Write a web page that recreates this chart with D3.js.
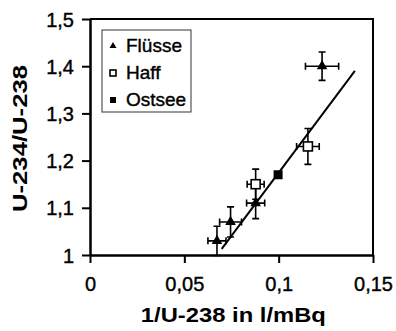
<!DOCTYPE html>
<html>
<head>
<meta charset="utf-8">
<script src="https://cdn.jsdelivr.net/npm/d3@7"></script>
<style>
  body { margin: 0; background: #fff; }
  svg text { font-family: "Liberation Sans", Arial, sans-serif; fill: #000; }
</style>
</head>
<body>
<div id="chart"></div>
<script>
// data
var groups  = ["Flüsse", "Haff", "Ostsee", "Haff", "Flüsse", "Flüsse", "Flüsse"];
var xVals   = [0.123, 0.1155, 0.0997, 0.0878, 0.0878, 0.0745, 0.0673];
var yVals   = [1.40, 1.23, 1.17, 1.15, 1.11, 1.07, 1.03];
var xErr    = [0.0088, 0.006, 0, 0.0045, 0.0048, 0.0058, 0.0048];
var yErr    = [0.03, 0.038, 0, 0.032, 0.033, 0.032, 0.031];
var legendNames = ["Flüsse", "Haff", "Ostsee"];
var fitX = [0.0698, 0.1404];
var fitY = [1.013, 1.39];
var xTicks = [0, 0.05, 0.1, 0.15];
var xTickLabels = ["0", "0,05", "0,1", "0,15"];
var yTicks = [1, 1.1, 1.2, 1.3, 1.4, 1.5];
var yTickLabels = ["1", "1,1", "1,2", "1,3", "1,4", "1,5"];

var W = 396, H = 331;
var margin = {top: 19, right: 23, bottom: 76, left: 90},
    width = W - margin.left - margin.right,
    height = H - margin.top - margin.bottom;

var svg = d3.select("#chart")
  .append("svg")
    .attr("width", W)
    .attr("height", H);

var g = svg.append("g")
    .attr("transform", "translate(" + margin.left + "," + margin.top + ")");

var x = d3.scaleLinear().domain([0, 0.15]).range([0, width]);
var y = d3.scaleLinear().domain([1, 1.5]).range([height, 0]);

// frame (top + right)
g.append("path")
    .attr("d", "M0,0H" + width + "V" + height)
    .attr("fill", "none")
    .attr("stroke", "#000")
    .attr("stroke-width", 2);

// axes
var xAxis = g.append("g")
    .attr("transform", "translate(0," + height + ")")
    .call(d3.axisBottom(x).tickValues(xTicks).tickSize(8).tickSizeOuter(0)
      .tickFormat(function(d, i) { return xTickLabels[i]; }));
var yAxis = g.append("g")
    .call(d3.axisLeft(y).tickValues(yTicks).tickSize(8).tickSizeOuter(0)
      .tickFormat(function(d, i) { return yTickLabels[i]; }));

[xAxis, yAxis].forEach(function(a) {
  a.select(".domain").attr("stroke-width", 2.5);
  a.selectAll(".tick line").attr("stroke-width", 2);
  a.selectAll("text").style("font-size", "20px").attr("fill", "#000")
    .attr("stroke", "#000").attr("stroke-width", 0.4);
});
xAxis.selectAll("text").attr("y", 22).attr("dy", "0.71em");
yAxis.selectAll("text").attr("x", -16).attr("dy", "0.35em");

// axis titles
svg.append("text")
    .attr("x", margin.left + x(0.076))
    .attr("y", 322)
    .attr("text-anchor", "middle")
    .style("font-size", "20px")
    .style("font-weight", "bold")
    .attr("textLength", 185)
    .attr("lengthAdjust", "spacingAndGlyphs")
    .text("1/U-238 in l/mBq");

svg.append("text")
    .attr("transform", "translate(27,138.5) rotate(-90)")
    .attr("text-anchor", "middle")
    .style("font-size", "20px")
    .style("font-weight", "bold")
    .attr("textLength", 147)
    .attr("lengthAdjust", "spacingAndGlyphs")
    .text("U-234/U-238");

// regression line
g.append("path")
    .attr("d", d3.line()(fitX.map(function(v, i) { return [x(v), y(fitY[i])]; })))
    .attr("stroke", "#000")
    .attr("stroke-width", 2)
    .attr("fill", "none");

// error bars
var cap = 3.5;
var pts = xVals.map(function(v, i) {
  return {x: v, y: yVals[i], ex: xErr[i], ey: yErr[i], g: groups[i]};
});
var eb = g.append("g").attr("stroke", "#000").attr("stroke-width", 1.6).attr("fill", "none");
pts.forEach(function(d) {
  if (d.ex > 0) {
    var x0 = x(d.x - d.ex), x1 = x(d.x + d.ex), yy = y(d.y);
    eb.append("path").attr("d",
      "M" + x0 + "," + yy + "H" + x1 +
      "M" + x0 + "," + (yy - cap) + "V" + (yy + cap) +
      "M" + x1 + "," + (yy - cap) + "V" + (yy + cap));
  }
  if (d.ey > 0) {
    var y0 = y(d.y - d.ey), y1 = y(d.y + d.ey), xx = x(d.x);
    eb.append("path").attr("d",
      "M" + xx + "," + y0 + "V" + y1 +
      "M" + (xx - cap) + "," + y0 + "H" + (xx + cap) +
      "M" + (xx - cap) + "," + y1 + "H" + (xx + cap));
  }
});

function marker(sel, name, s) {
  if (name === "Flüsse") {
    sel.append("path")
      .attr("d", d3.symbol().type(d3.symbolTriangle).size(s * s * 0.6)())
      .attr("fill", "#000");
  } else if (name === "Haff") {
    sel.append("rect")
      .attr("x", -s / 2).attr("y", -s / 2).attr("width", s).attr("height", s)
      .attr("fill", "#fff").attr("stroke", "#000").attr("stroke-width", 1.6);
  } else {
    sel.append("rect")
      .attr("x", -s / 2).attr("y", -s / 2).attr("width", s).attr("height", s)
      .attr("fill", "#000");
  }
}

pts.forEach(function(d) {
  var m = g.append("g").attr("transform", "translate(" + x(d.x) + "," + y(d.y) + ")");
  marker(m, d.g, 9);
});

// legend
var lg = svg.append("g").attr("transform", "translate(102,30)");
lg.append("rect")
    .attr("width", 89).attr("height", 82)
    .attr("fill", "#fff")
    .attr("stroke", "#333").attr("stroke-width", 1);
legendNames.forEach(function(n, i) {
  var row = lg.append("g").attr("transform", "translate(0," + (15 + i * 27) + ")");
  var m = row.append("g").attr("transform", "translate(11,1)");
  marker(m, n, 6);
  row.append("text")
    .attr("x", 24).attr("y", 0).attr("dy", "0.35em")
    .style("font-size", "19px")
    .attr("stroke", "#000").attr("stroke-width", 0.4)
    .text(n);
});
</script>
</body>
</html>
